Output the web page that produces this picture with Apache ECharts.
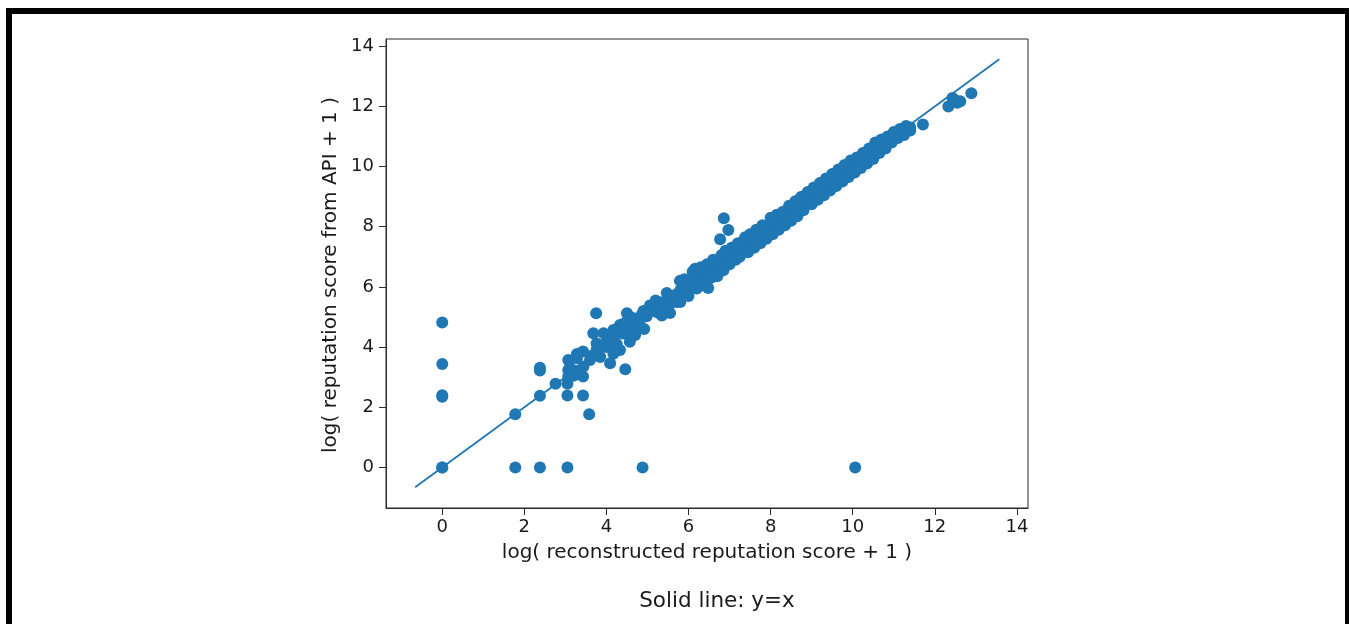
<!DOCTYPE html>
<html>
<head>
<meta charset="utf-8">
<script src="https://cdn.jsdelivr.net/npm/echarts@6/dist/echarts.min.js"></script>
<style>
html,body{margin:0;padding:0;background:#fff;}
#chart{width:1349px;height:624px;}
</style>
</head>
<body>
<div id="chart"></div>
<script>
// reconstructed score (x) and API score (y)
const pointsXY = [
  [0,0],[0,0],[0,2.35],[0,2.4],[0,3.44],[0,4.82],
  [1.78,1.77],[1.78,0],
  [2.38,0],[2.38,2.38],[2.38,3.22],[2.38,3.31],
  [2.76,2.78],
  [3.05,0],[3.05,2.39],[3.05,2.78],[3.07,3.02],[3.07,3.24],[3.07,3.57],[3.12,3.3],[3.2,3.05],[3.28,3.2],[3.28,3.63],[3.28,3.77],
  [3.43,3.85],[3.43,3.02],[3.43,2.39],[3.44,3.35],[3.58,1.77],[3.6,3.57],[3.62,3.7],[3.68,4.46],[3.75,5.12],[3.76,4.12],[3.76,3.9],
  [3.76,3.79],[3.85,3.67],[3.93,4.46],[4.0,4.0],[4.0,4.18],[4.09,3.46],[4.1,4.3],[4.17,4.57],[4.17,3.78],[4.17,4.35],[4.25,4.1],
  [4.33,4.73],[4.33,3.9],[4.33,4.6],[4.4,4.45],[4.46,3.26],[4.5,5.12],[4.5,4.6],[4.57,4.18],[4.58,5.0],[4.62,4.75],[4.66,4.96],
  [4.7,4.4],[4.74,4.57],[4.8,4.85],[4.88,0],[4.9,5.2],[4.92,4.6],[4.98,5.02],[5.06,5.38],[5.1,5.2],[5.2,5.35],[5.25,5.15],
  [5.3,5.4],[5.39,5.5],[5.47,5.8],[5.5,5.35],[5.55,5.13],[5.6,5.6],[5.63,5.5],
  [5.7,5.75],[5.72,5.5],[5.79,6.2],[5.8,5.9],[5.85,5.7],[5.9,6.05],[5.95,5.85],[6.0,6.2],[6.05,5.95],[6.1,6.3],[6.12,6.0],
  [6.16,6.6],[6.2,6.25],[6.25,6.1],[6.3,6.45],[6.35,6.3],[6.4,6.6],[6.42,6.25],[6.48,5.96],[6.5,6.5],[6.55,6.7],[6.6,6.45],
  [6.65,6.8],[6.7,6.55],[6.75,6.9],[6.77,7.58],[6.8,6.7],[6.86,8.28],[6.9,7.0],[6.95,6.8],[6.97,7.89],[7.0,7.15],[7.05,6.95],
  [7.1,7.2],[7.13,6.95],[7.18,7.3],[7.22,7.05],[7.28,7.4],[7.34,7.22],[7.38,7.65],[7.4,7.5],[7.45,7.35],[7.5,7.55],[7.55,7.4],
  [7.6,7.7],[7.65,7.5],[7.7,7.85],[7.74,7.6],[7.8,7.9],[7.85,7.75],[7.9,8.0],[7.95,7.85],[8.0,8.1],[8.05,7.95],[8.1,8.2],
  [8.15,8.05],[8.19,8.12],[8.25,8.35],[8.3,8.2],[8.35,8.45],[8.4,8.3],[8.47,8.6],[8.5,8.4],[8.55,8.6],[8.6,8.5],[8.64,8.7],
  [8.7,8.85],[8.72,8.95],[8.78,8.7],[8.85,8.9],[8.9,9.0],[8.95,8.85],[9.0,9.1],[9.08,9.0],[9.12,9.2],[9.2,9.28],[9.25,9.15],
  [9.3,9.35],[9.37,9.3],[9.42,9.45],[9.5,9.55],[9.53,9.7],[9.58,9.5],[9.65,9.7],[9.7,9.75],[9.75,9.65],[9.8,9.85],[9.85,9.8],
  [9.9,9.95],[9.95,10.05],[10.0,9.9],[10.02,10.1],[10.1,10.1],[10.15,10.2],[10.2,10.15],[10.3,10.25],[10.35,10.35],[10.4,10.4],
  [10.45,10.5],[10.5,10.65],[10.55,10.4],[10.59,10.45],[10.6,10.6],[10.65,10.75],[10.7,10.7],[10.75,10.8],[10.8,10.85],
  [10.9,10.95],[10.95,11.0],[11.0,11.05],[11.1,11.1],[11.2,11.18],[11.32,11.25],[11.4,11.3],[11.71,11.4],
  [12.33,12.0],[12.43,12.28],[12.5,12.2],[12.55,12.12],[12.62,12.17],[12.89,12.44],
  [10.06,0],
  [5.8,5.5],[5.9,6.25],[6.0,5.7],[6.1,6.5],[6.2,5.95],[6.3,6.65],[6.35,6.05],[6.45,6.75],[6.55,6.3],[6.6,6.9],[6.7,6.35],
  [6.8,7.05],[6.85,6.55],[6.9,7.2],[7.0,6.75],[7.05,7.3],[7.15,6.9],[7.2,7.45],[7.25,7.0],[7.35,7.55],[7.45,7.15],[7.5,7.75],
  [7.6,7.3],[7.65,7.9],[7.75,7.45],[7.8,8.05],[7.9,7.6],[8.0,8.3],[8.05,7.75],[8.15,8.4],[8.2,7.9],[8.3,8.5],[8.35,8.05],
  [8.45,8.7],[8.5,8.2],[8.6,8.85],[8.65,8.35],[8.75,9.0],[8.8,8.55],[8.9,9.15],[9.0,8.75],[9.05,9.3],[9.15,8.9],[9.2,9.45],
  [9.3,9.05],[9.35,9.6],[9.45,9.2],[9.5,9.75],[9.6,9.35],[9.65,9.9],[9.75,9.5],[9.8,10.05],[9.9,9.65],[9.95,10.2],[10.05,9.8],
  [10.1,10.3],[10.2,9.95],[10.25,10.45],[10.35,10.1],[10.4,10.6],[10.5,10.25],[10.55,10.8],[10.65,10.45],[10.7,10.9],
  [10.8,10.6],[10.85,11.0],[10.95,10.8],[11.0,11.15],[11.1,10.95],[11.15,11.25],[11.25,11.05],[11.3,11.35],[11.05,11.1],[11.4,11.2],
  [5.2,5.55],[5.35,5.05],[4.85,5.05],[4.6,4.4],[4.45,4.8]
];
const reconstructed = pointsXY.map(p => p[0]);
const fromAPI = pointsXY.map(p => p[1]);
const identityLine = [[-0.66,-0.66],[13.57,13.57]];
const tickValues = [0,2,4,6,8,10,12,14];
const xTitle = 'log( reconstructed reputation score + 1 )';
const yTitle = 'log( reputation score from API + 1 )';
const footer = 'Solid line: y=x';

const BLUE = '#1f77b4';
const FONT = 'DejaVu Sans';
const TXT = '#1a1a1a';

const chart = echarts.init(document.getElementById('chart'));
function axisBase(margin) {
  return {
    type: 'value',
    splitLine: {show: false},
    axisLine: {show: true, onZero: false, lineStyle: {color: '#2a2a2a', width: 1}},
    axisTick: {show: true, inside: false, length: 7, customValues: tickValues, lineStyle: {color: '#2a2a2a', width: 1}},
    axisLabel: {customValues: tickValues, fontFamily: FONT, fontSize: 18, color: TXT, margin: margin}
  };
}
chart.setOption({
  animation: false,
  backgroundColor: '#fff',
  grid: {left: 386, top: 39, right: 321, bottom: 116, show: true, borderColor: '#2a2a2a', borderWidth: 1, containLabel: false},
  xAxis: Object.assign(axisBase(10), {min: -1.37, max: 14.27}),
  yAxis: Object.assign(axisBase(12), {min: -1.35, max: 14.24}),
  series: [
    {
      type: 'line',
      data: identityLine,
      symbol: 'none',
      lineStyle: {color: BLUE, width: 1.8},
      z: 1
    },
    {
      type: 'scatter',
      data: reconstructed.map((x, i) => [x, fromAPI[i]]),
      symbolSize: 12,
      itemStyle: {color: BLUE, opacity: 1},
      z: 2
    }
  ],
  graphic: [
    {type: 'rect', shape: {x: 6, y: 8, width: 1343, height: 6}, style: {fill: '#000'}},
    {type: 'rect', shape: {x: 6, y: 8, width: 6, height: 616}, style: {fill: '#000'}},
    {type: 'rect', shape: {x: 1345, y: 8, width: 4, height: 616}, style: {fill: '#000'}},
    {type: 'text', x: 707, y: 553, style: {text: xTitle, font: '20px "DejaVu Sans"', fill: TXT, textAlign: 'center', textVerticalAlign: 'middle'}},
    {type: 'text', x: 331, y: 275, rotation: Math.PI / 2, style: {text: yTitle, font: '20px "DejaVu Sans"', fill: TXT, textAlign: 'center', textVerticalAlign: 'middle'}},
    {type: 'text', x: 717, y: 601, style: {text: footer, font: '21.5px "DejaVu Sans"', fill: TXT, textAlign: 'center', textVerticalAlign: 'middle'}}
  ]
});
</script>
</body>
</html>
